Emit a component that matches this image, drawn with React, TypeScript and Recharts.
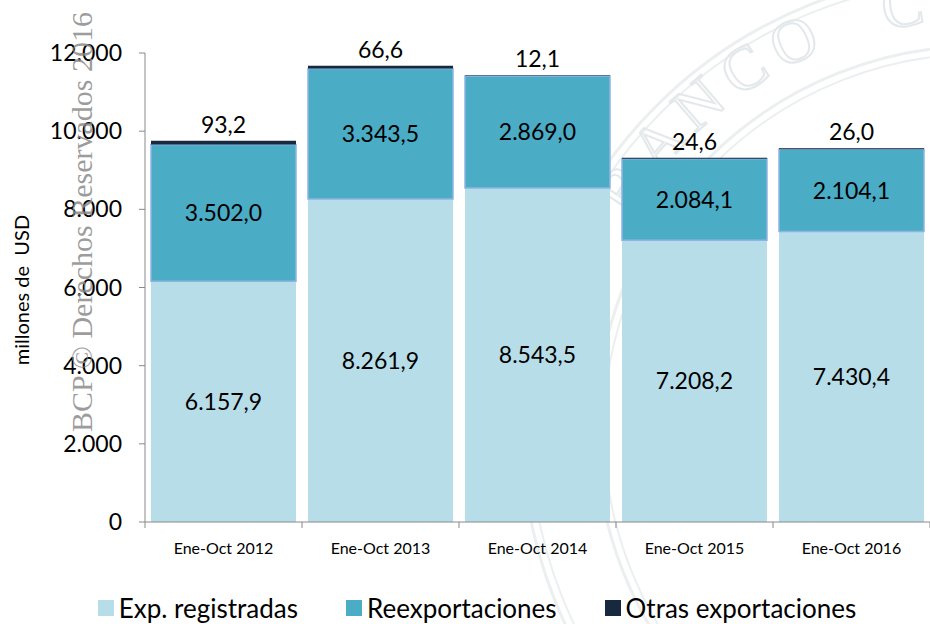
import React from "react";
import {
  BarChart,
  Bar,
  XAxis,
  YAxis,
  Legend,
  LabelList,
} from "recharts";

const categories = ["Ene-Oct 2012", "Ene-Oct 2013", "Ene-Oct 2014", "Ene-Oct 2015", "Ene-Oct 2016"];
const registradas = [6157.9, 8261.9, 8543.5, 7208.2, 7430.4];
const reexportaciones = [3502.0, 3343.5, 2869.0, 2084.1, 2104.1];
const otras = [93.2, 66.6, 12.1, 24.6, 26.0];
const yTicks = [0, 2000, 4000, 6000, 8000, 10000, 12000];

const series = [
  { key: "registradas", name: "Exp. registradas", color: "#B7DDE8" },
  { key: "reexportaciones", name: "Reexportaciones", color: "#4BACC6" },
  { key: "otras", name: "Otras exportaciones", color: "#17283F" },
];

const data = categories.map((c, i) => ({
  name: c,
  registradas: registradas[i],
  reexportaciones: reexportaciones[i],
  otras: otras[i],
}));

const W = 930;
const H = 624;
const ML = 145;
const MR = 0;
const band = (W - ML - MR) / categories.length;
const FONT = "Lato, 'Open Sans', sans-serif";
const AXIS = "#898989";

function group(s: string) {
  return s.replace(/\B(?=(\d{3})+(?!\d))/g, ".");
}

function fmt(v: any) {
  const [i, d] = Number(v).toFixed(1).split(".");
  return group(i) + "," + d;
}

function XTick(props: any) {
  const { x, y, payload, index } = props;
  return (
    <g>
      <line x1={x - band / 2} x2={x - band / 2} y1={y - 8} y2={y - 2} stroke={AXIS} />
      {index === categories.length - 1 && (
        <line x1={x + band / 2} x2={x + band / 2} y1={y - 8} y2={y - 2} stroke={AXIS} />
      )}
      <text x={x} y={y + 24} textAnchor="middle" fontSize={16} fill="#000" fontFamily={FONT}>
        {payload.value}
      </text>
    </g>
  );
}

function LegendContent() {
  return (
    <div
      style={{
        height: 62,
        display: "flex",
        alignItems: "flex-end",
        justifyContent: "center",
        gap: 48,
        fontFamily: FONT,
        fontSize: 26,
        color: "#000",
        paddingLeft: 24,
        boxSizing: "border-box",
      }}
    >
      {series.map((s) => (
        <div key={s.key} style={{ display: "flex", alignItems: "center", gap: 5, lineHeight: "32px" }}>
          <span style={{ width: 16, height: 16, background: s.color, display: "inline-block" }} />
          <span>{s.name}</span>
        </div>
      ))}
    </div>
  );
}

// faint seal in the background, letters placed one by one along an arc
const sealLetters = "BANCO C".split("");

function Seal() {
  const cx = 980;
  const cy = 430;
  const r = 425;
  const start = -146;
  const step = 7.6;
  return (
    <svg width={W} height={H} style={{ position: "absolute", left: 0, top: 0 }}>
      <circle cx={cx} cy={cy} r={458} fill="none" stroke="#eceff0" strokeWidth={3} />
      <circle cx={cx} cy={cy} r={450} fill="none" stroke="#eceff0" strokeWidth={2} />
      <circle cx={cx} cy={cy} r={384} fill="none" stroke="#eceff0" strokeWidth={3} />
      <circle cx={cx} cy={cy} r={376} fill="none" stroke="#eceff0" strokeWidth={2} />
      {sealLetters.map((ch, i) => {
        if (ch === " ") return null;
        const a = start + i * step;
        const rad = (a * Math.PI) / 180;
        const x = cx + r * Math.cos(rad);
        const y = cy + r * Math.sin(rad);
        return (
          <text
            key={i}
            transform={`translate(${x}, ${y}) rotate(${a + 90})`}
            textAnchor="middle"
            dominantBaseline="middle"
            fontFamily="'Liberation Serif', serif"
            fontSize={62}
            fill="none"
            stroke="#e3e8ea"
            strokeWidth={2}
          >
            {ch}
          </text>
        );
      })}
    </svg>
  );
}

export default function App() {
  return (
    <div style={{ position: "absolute", left: 0, top: 0, width: W, height: H, background: "#fff" }}>
      <Seal />
      <div style={{ position: "absolute", left: 0, top: 0 }}>
        <BarChart
          width={W}
          height={H}
          data={data}
          margin={{ top: 53, right: MR, left: 0, bottom: 0 }}
          barCategoryGap={6}
        >
          <XAxis
            dataKey="name"
            height={40}
            axisLine={{ stroke: AXIS }}
            tickLine={false}
            tick={<XTick />}
            interval={0}
          />
          <YAxis
            width={ML}
            domain={[0, 12000]}
            ticks={yTicks}
            tickFormatter={(v: number) => group(String(v))}
            axisLine={{ stroke: AXIS }}
            tickLine={{ stroke: AXIS }}
            tickSize={6}
            tickMargin={17}
            tick={{ fontSize: 23, fill: "#000", fontFamily: FONT }}
            label={{
              content: () => (
                <text
                  transform="translate(29, 290) rotate(-90)"
                  textAnchor="middle"
                  fontSize={20}
                  fontFamily={FONT}
                  fill="#000"
                  style={{ whiteSpace: "pre" }}
                >
                  millones de  USD
                </text>
              ),
            }}
          />
          <Legend verticalAlign="bottom" content={<LegendContent />} />
          <Bar dataKey="registradas" name={series[0].name} stackId="a" fill={series[0].color} isAnimationActive={false}>
            <LabelList dataKey="registradas" position="center" formatter={fmt} fontSize={23} fill="#000" fontFamily={FONT} />
          </Bar>
          <Bar
            dataKey="reexportaciones"
            name={series[1].name}
            stackId="a"
            fill={series[1].color}
            stroke="#8DB4E2"
            strokeWidth={1.5}
            isAnimationActive={false}
          >
            <LabelList dataKey="reexportaciones" position="center" formatter={fmt} fontSize={23} fill="#000" fontFamily={FONT} />
          </Bar>
          <Bar dataKey="otras" name={series[2].name} stackId="a" fill={series[2].color} isAnimationActive={false}>
            <LabelList dataKey="otras" position="top" offset={8} formatter={fmt} fontSize={23} fill="#000" fontFamily={FONT} />
          </Bar>
        </BarChart>
      </div>
      <svg width={W} height={H} style={{ position: "absolute", left: 0, top: 0, pointerEvents: "none" }}>
        <text
          transform="translate(92, 222) rotate(-90)"
          textAnchor="middle"
          fontFamily="'Liberation Serif', serif"
          fontSize={30}
          fill="#8a8a8a"
          fillOpacity={0.85}
        >
          BCP © Derechos Reservados 2016
        </text>
      </svg>
    </div>
  );
}
